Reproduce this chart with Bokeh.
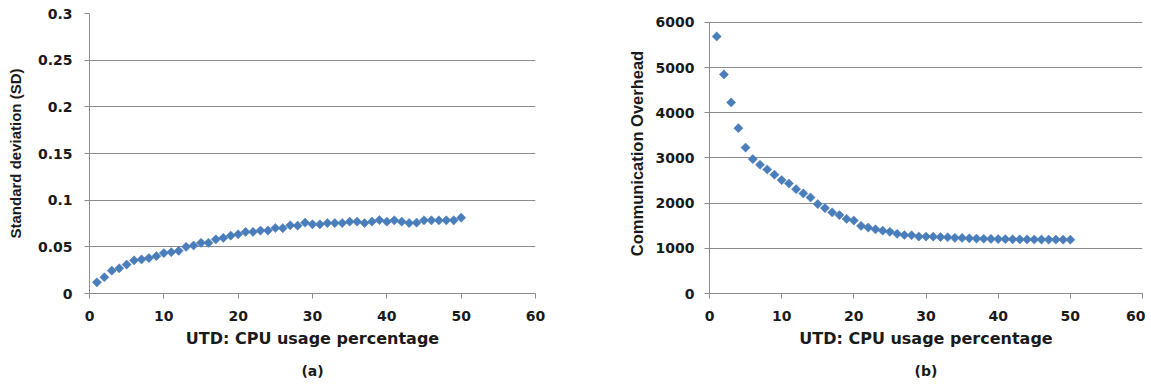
from bokeh.plotting import figure
from bokeh.models import Range1d, FixedTicker, Title
from bokeh.layouts import row
from bokeh.embed import file_html
from bokeh.resources import INLINE

cpu = [1, 2, 3, 4, 5, 6, 7, 8, 9, 10, 11, 12, 13, 14, 15, 16, 17, 18, 19, 20,
       21, 22, 23, 24, 25, 26, 27, 28, 29, 30, 31, 32, 33, 34, 35, 36, 37, 38, 39, 40,
       41, 42, 43, 44, 45, 46, 47, 48, 49, 50]
sd = [0.012, 0.0174, 0.0245, 0.027, 0.031, 0.0355, 0.0365, 0.038, 0.040, 0.0433,
      0.0443, 0.0457, 0.050, 0.0514, 0.0543, 0.0543, 0.058, 0.0596, 0.062, 0.0635,
      0.066, 0.066, 0.0674, 0.0674, 0.0702, 0.070, 0.073, 0.0727, 0.0759, 0.0741,
      0.0741, 0.0755, 0.0755, 0.0755, 0.077, 0.077, 0.0755, 0.077, 0.0787, 0.077,
      0.0784, 0.077, 0.0755, 0.0759, 0.0784, 0.0784, 0.0784, 0.0784, 0.0784, 0.0812]
overhead = [5690, 4850, 4230, 3660, 3230, 2975, 2850, 2745, 2630, 2510,
            2435, 2310, 2215, 2125, 1980, 1890, 1795, 1735, 1650, 1615,
            1495, 1460, 1420, 1390, 1365, 1320, 1295, 1290, 1260, 1260,
            1258, 1250, 1245, 1232, 1230, 1222, 1215, 1212, 1208, 1205,
            1203, 1200, 1198, 1197, 1195, 1194, 1193, 1192, 1192, 1192]

x_ticks = [0, 10, 20, 30, 40, 50, 60]
sd_ticks = [0, 0.05, 0.1, 0.15, 0.2, 0.25, 0.3]
sd_labels = ["0", "0.05", "0.1", "0.15", "0.2", "0.25", "0.3"]
oh_ticks = [0, 1000, 2000, 3000, 4000, 5000, 6000]
oh_labels = ["0", "1000", "2000", "3000", "4000", "5000", "6000"]

x_title = "UTD: CPU usage percentage"
y_titles = ["Standard deviation (SD)", "Communication Overhead"]
captions = ["(a)", "(b)"]

WIDE = "DejaVu Sans"
NARROW = "Liberation Sans"
TXT = "#1a1a1a"
GRID = "#8c8c8c"
BLUE = "#4a7ebb"


def make(ys, yticks, ylabels, ytop, ymax, ytitle, ysize, caption, width, left, right,
         tick_sd, lab_sd):
    p = figure(width=width, height=389, output_backend="svg", toolbar_location=None,
               x_range=Range1d(0, 60), y_range=Range1d(0, ytop),
               min_border_left=left, min_border_right=right, min_border_top=13,
               min_border_bottom=95)
    p.outline_line_color = None
    p.background_fill_color = "white"
    p.border_fill_color = "white"
    p.xgrid.grid_line_color = None
    p.ygrid.grid_line_color = GRID
    p.ygrid.grid_line_width = 1
    p.xaxis.ticker = FixedTicker(ticks=x_ticks)
    p.yaxis.ticker = FixedTicker(ticks=yticks)
    p.yaxis.bounds = (0, ymax)
    p.yaxis.major_label_overrides = {t: l for t, l in zip(yticks, ylabels)}
    p.xaxis.major_label_overrides = {t: str(t) for t in x_ticks}
    for ax in (p.xaxis[0], p.yaxis[0]):
        ax.axis_line_color = GRID
        ax.major_tick_line_color = GRID
        ax.major_tick_in = 0
        ax.major_tick_out = 5
        ax.minor_tick_line_color = None
        ax.major_label_text_font = WIDE
        ax.major_label_text_font_style = "bold"
        ax.major_label_text_font_size = "14px"
        ax.major_label_text_color = TXT
        ax.axis_label_text_font_style = "bold"
        ax.axis_label_text_color = TXT
    p.xaxis.axis_label = x_title
    p.xaxis.axis_label_text_font = WIDE
    p.xaxis.axis_label_text_font_size = "16px"
    p.xaxis.major_label_standoff = 12
    p.xaxis.axis_label_standoff = 5
    p.yaxis.axis_label = ytitle
    p.yaxis.axis_label_text_font = NARROW
    p.yaxis.axis_label_text_font_size = ysize
    p.yaxis.major_label_standoff = tick_sd
    p.yaxis.axis_label_standoff = lab_sd
    p.scatter(cpu, ys, marker="square", angle=0.785, size=6.5,
              fill_color=BLUE, line_color=BLUE, line_width=0.5)
    t = Title(text=caption, align="center", vertical_align="bottom", text_font=WIDE,
              text_font_style="bold", text_font_size="14px", text_color=TXT, standoff=21)
    p.add_layout(t, "below")
    return p


p1 = make(sd, sd_ticks, sd_labels, 0.3, 0.3, y_titles[0], "15px", captions[0],
          568, 89, 33, 12, 11)
p2 = make(overhead, oh_ticks, oh_labels, 6198, 6000, y_titles[1], "16.5px", captions[1],
          577, 141, 3, 10, 7)

layout = row(p1, p2)
open("out.html", "w").write(file_html(layout, INLINE))
